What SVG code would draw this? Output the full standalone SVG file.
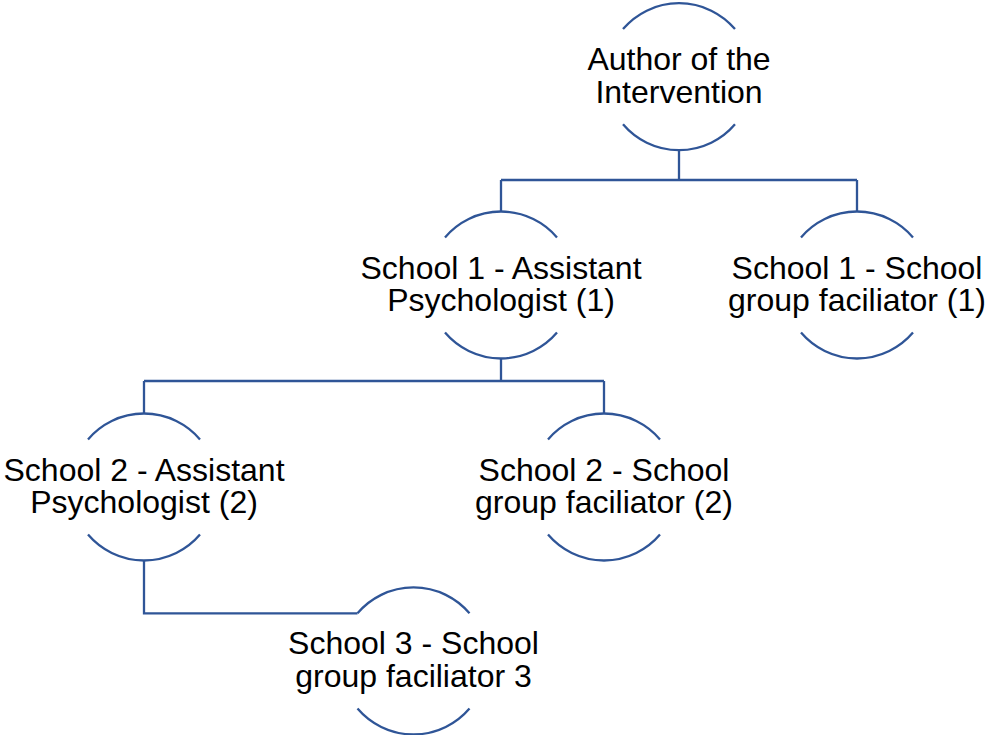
<svg xmlns="http://www.w3.org/2000/svg" width="985" height="735" viewBox="0 0 985 735">
  <style>
    .arc { fill: none; stroke: #2F5597; stroke-width: 2.3; }
    .link { fill: none; stroke: #2F5597; stroke-width: 2.3; }
    .label { font-family: "Liberation Sans", Arial, sans-serif; font-size: 32px; fill: #000; text-anchor: middle; }
  </style>
  <rect width="985" height="735" fill="#fff"/>

  <!-- connectors between hierarchy levels -->
  <g id="connectors">
    <path class="link" d="M679 150 V180 M501 180 H857 M501 180 V211.5 M857 180 V211.5"/>
    <path class="link" d="M501 358.5 V381 M144 381 H604 M144 381 V413.5 M604 381 V413.5"/>
    <path class="link" d="M144 560.5 V613.3 H357.5"/>
  </g>

  <!-- each node: circle split into top and bottom arcs with the label between -->
  <g id="author">
    <g transform="translate(679,76.7)">
      <path class="arc" d="M-56 -47.6 A73.5 73.5 0 0 1 56 -47.6 M-56 47.6 A73.5 73.5 0 0 0 56 47.6"/>
      <text class="label" x="0" y="-6.5">Author of the</text>
      <text class="label" x="0" y="26">Intervention</text>
    </g>
  </g>

  <g id="school1-assistant">
    <g transform="translate(501,285)">
      <path class="arc" d="M-56 -47.6 A73.5 73.5 0 0 1 56 -47.6 M-56 47.6 A73.5 73.5 0 0 0 56 47.6"/>
      <text class="label" x="0" y="-6.5">School 1 - Assistant</text>
      <text class="label" x="0" y="26">Psychologist (1)</text>
    </g>
  </g>

  <g id="school1-facilitator">
    <g transform="translate(857,285)">
      <path class="arc" d="M-56 -47.6 A73.5 73.5 0 0 1 56 -47.6 M-56 47.6 A73.5 73.5 0 0 0 56 47.6"/>
      <text class="label" x="0" y="-6.5">School 1 - School</text>
      <text class="label" x="0" y="26">group faciliator (1)</text>
    </g>
  </g>

  <g id="school2-assistant">
    <g transform="translate(144,487)">
      <path class="arc" d="M-56 -47.6 A73.5 73.5 0 0 1 56 -47.6 M-56 47.6 A73.5 73.5 0 0 0 56 47.6"/>
      <text class="label" x="0" y="-6.5">School 2 - Assistant</text>
      <text class="label" x="0" y="26">Psychologist (2)</text>
    </g>
  </g>

  <g id="school2-facilitator">
    <g transform="translate(604,487)">
      <path class="arc" d="M-56 -47.6 A73.5 73.5 0 0 1 56 -47.6 M-56 47.6 A73.5 73.5 0 0 0 56 47.6"/>
      <text class="label" x="0" y="-6.5">School 2 - School</text>
      <text class="label" x="0" y="26">group faciliator (2)</text>
    </g>
  </g>

  <g id="school3-facilitator">
    <g transform="translate(413.5,660.9)">
      <path class="arc" d="M-56 -47.6 A73.5 73.5 0 0 1 56 -47.6 M-56 47.6 A73.5 73.5 0 0 0 56 47.6"/>
      <text class="label" x="0" y="-6.5">School 3 - School</text>
      <text class="label" x="0" y="26">group faciliator 3</text>
    </g>
  </g>
</svg>
